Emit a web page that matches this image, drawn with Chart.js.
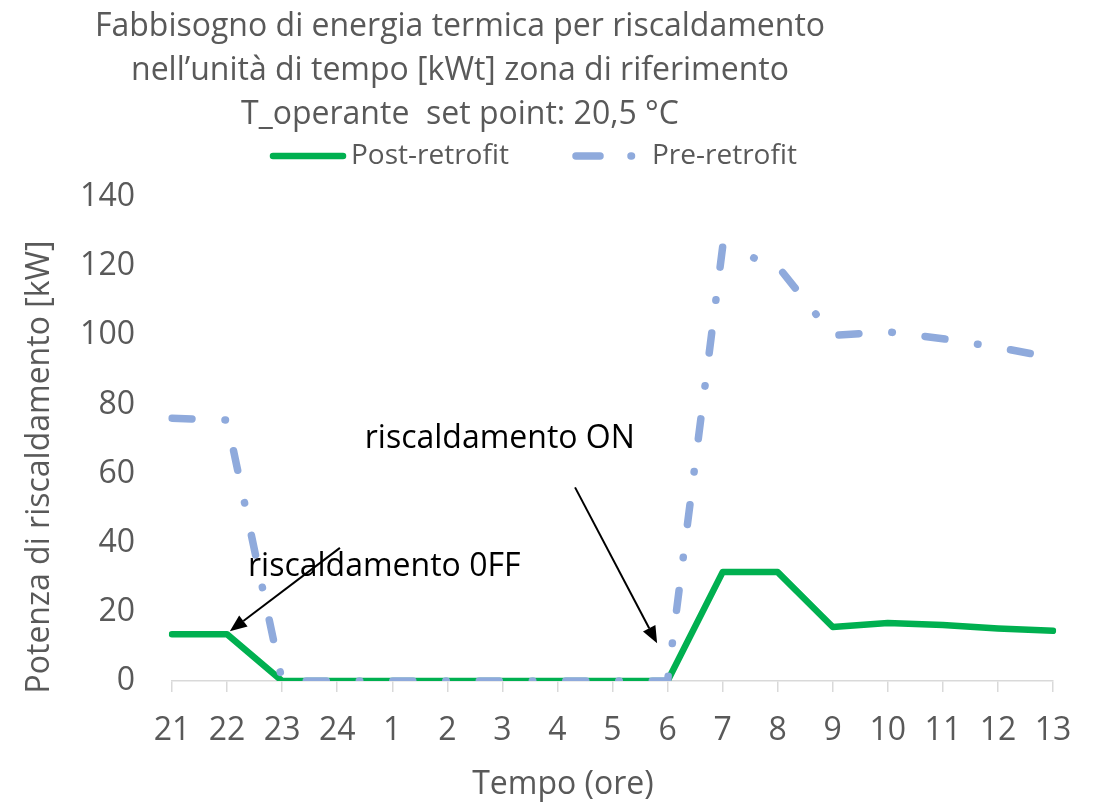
<!DOCTYPE html>
<html>
<head>
<meta charset="utf-8">
<script src="https://cdn.jsdelivr.net/npm/chart.js@4.4.0/dist/chart.umd.min.js"></script>
<style>
  html, body { margin: 0; background: #fff; }
  #wrap { width: 1097px; height: 803px; position: relative; }
</style>
</head>
<body>
<div id="wrap"><canvas id="chart"></canvas></div>
<script>
/* ---------- Data ---------- */
const hours = ['21', '22', '23', '24', '1', '2', '3', '4', '5', '6', '7', '8', '9', '10', '11', '12', '13'];
const postRetrofit = [13.5, 13.5, 0, 0, 0, 0, 0, 0, 0, 0, 31.5, 31.5, 15.6, 16.8, 16.2, 15.2, 14.5];
const preRetrofit = [76, 75.5, 0, 0, 0, 0, 0, 0, 0, 0, 125.5, 120, 100, 101, 99, 96.5, 93.5];
const yTicks = [0, 20, 40, 60, 80, 100, 120, 140];

const titleLines = [
  'Fabbisogno di energia termica per riscaldamento',
  'nell\u2019unità di tempo [kWt] zona di riferimento',
  'T_operante  set point: 20,5 °C',
];
const seriesNames = ['Post-retrofit', 'Pre-retrofit'];
const xTitle = 'Tempo (ore)';
const yTitle = 'Potenza di riscaldamento [kW]';

// annotation labels and arrows, in data space (category index, kW)
const notes = [
  { text: 'riscaldamento ON', x: 3.5, y: 70 },
  { text: 'riscaldamento 0FF', x: 1.38, y: 33 },
];
const arrows = [
  { from: [3.05, 38.5], to: [1.05, 14.4] },
  { from: [7.32, 56], to: [8.81, 10.9] },
];

/* ---------- Styles ---------- */
const FONT = "'Open Sans', sans-serif";
const GREY = '#595959';
const GREEN = '#00B050';
const BLUE = '#8FAADC';

/* ---------- Plugin: title, legend, axis titles, notes ---------- */
const excelDecor = {
  id: 'excelDecor',
  afterDatasetsDraw(chart) {
    const { ctx, scales: { x, y } } = chart;
    ctx.save();

    // title
    ctx.fillStyle = GREY;
    ctx.font = `32px ${FONT}`;
    ctx.textAlign = 'center';
    ctx.textBaseline = 'middle';
    const titleY = [27, 71, 115];
    titleLines.forEach((line, i) => ctx.fillText(line, 460, titleY[i]));

    // legend
    const legendY = 156;
    const legendItems = [
      { ds: chart.data.datasets[0], x0: 273, len: 70, textX: 351 },
      { ds: chart.data.datasets[1], x0: 576, len: 60, textX: 652 },
    ];
    ctx.font = `28px ${FONT}`;
    ctx.textAlign = 'left';
    legendItems.forEach(it => {
      ctx.save();
      ctx.strokeStyle = it.ds.borderColor;
      ctx.lineWidth = it.ds.borderWidth;
      ctx.lineCap = 'round';
      ctx.setLineDash(it.ds.borderDash ? [24, 31, 0.5, 31] : []);
      ctx.beginPath();
      ctx.moveTo(it.x0, legendY);
      ctx.lineTo(it.x0 + it.len, legendY);
      ctx.stroke();
      ctx.restore();
      ctx.fillStyle = GREY;
      ctx.fillText(it.ds.label, it.textX, legendY);
    });

    // axis titles
    ctx.font = `32px ${FONT}`;
    ctx.textAlign = 'center';
    ctx.fillText(xTitle, 563, 785);
    ctx.save();
    ctx.translate(40, 467);
    ctx.rotate(-Math.PI / 2);
    ctx.fillText(yTitle, 0, 0);
    ctx.restore();

    // notes
    ctx.fillStyle = '#000';
    ctx.textAlign = 'left';
    notes.forEach(n => {
      ctx.fillText(n.text, x.getPixelForValue(n.x), y.getPixelForValue(n.y));
    });

    // arrows
    ctx.strokeStyle = '#000';
    ctx.fillStyle = '#000';
    ctx.lineWidth = 2;
    arrows.forEach(a => {
      const x1 = x.getPixelForValue(a.from[0]), y1 = y.getPixelForValue(a.from[1]);
      const x2 = x.getPixelForValue(a.to[0]), y2 = y.getPixelForValue(a.to[1]);
      const ang = Math.atan2(y2 - y1, x2 - x1);
      const len = 17, half = 7;
      const bx = x2 - Math.cos(ang) * len, by = y2 - Math.sin(ang) * len;
      ctx.beginPath();
      ctx.moveTo(x1, y1);
      ctx.lineTo(bx, by);
      ctx.stroke();
      ctx.beginPath();
      ctx.moveTo(x2, y2);
      ctx.lineTo(bx + Math.sin(ang) * half, by - Math.cos(ang) * half);
      ctx.lineTo(bx - Math.sin(ang) * half, by + Math.cos(ang) * half);
      ctx.closePath();
      ctx.fill();
    });

    ctx.restore();
  },
};

/* ---------- Chart ---------- */
Chart.defaults.font.family = FONT;

new Chart(document.getElementById('chart'), {
  type: 'line',
  data: {
    labels: hours,
    datasets: [
      {
        label: seriesNames[0],
        data: postRetrofit,
        borderColor: GREEN,
        backgroundColor: GREEN,
        borderWidth: 6.5,
        borderCapStyle: 'round',
        borderJoinStyle: 'round',
        pointRadius: 0,
        tension: 0,
        order: 2,
      },
      {
        label: seriesNames[1],
        data: preRetrofit,
        borderColor: BLUE,
        backgroundColor: BLUE,
        borderWidth: 7.5,
        borderDash: [20, 33, 0.5, 33],
        borderCapStyle: 'round',
        borderJoinStyle: 'round',
        pointRadius: 0,
        tension: 0,
        order: 1,
      },
    ],
  },
  options: {
    responsive: true,
    maintainAspectRatio: false,
    animation: false,
    layout: { padding: { top: 197, right: 44, bottom: 0, left: 0 } },
    plugins: {
      legend: { display: false },
      title: { display: false },
      tooltip: { enabled: false },
    },
    scales: {
      x: {
        type: 'category',
        offset: false,
        afterFit(scale) { scale.height = 122; },
        grid: {
          display: true,
          drawOnChartArea: false,
          drawTicks: true,
          tickLength: 11,
          color: '#D9D9D9',
          lineWidth: 1.5,
        },
        border: { display: true, color: '#D9D9D9', width: 1.5 },
        ticks: {
          autoSkip: false,
          maxRotation: 0,
          padding: 20,
          color: GREY,
          font: { size: 32, family: FONT },
        },
      },
      y: {
        min: 0,
        max: 140,
        afterFit(scale) { scale.width = 172; },
        afterBuildTicks(scale) { scale.ticks = yTicks.map(v => ({ value: v })); },
        grid: { display: false, drawTicks: false },
        border: { display: false },
        ticks: {
          padding: 37,
          color: GREY,
          font: { size: 32, family: FONT },
        },
      },
    },
  },
  plugins: [excelDecor],
});
</script>
</body>
</html>
